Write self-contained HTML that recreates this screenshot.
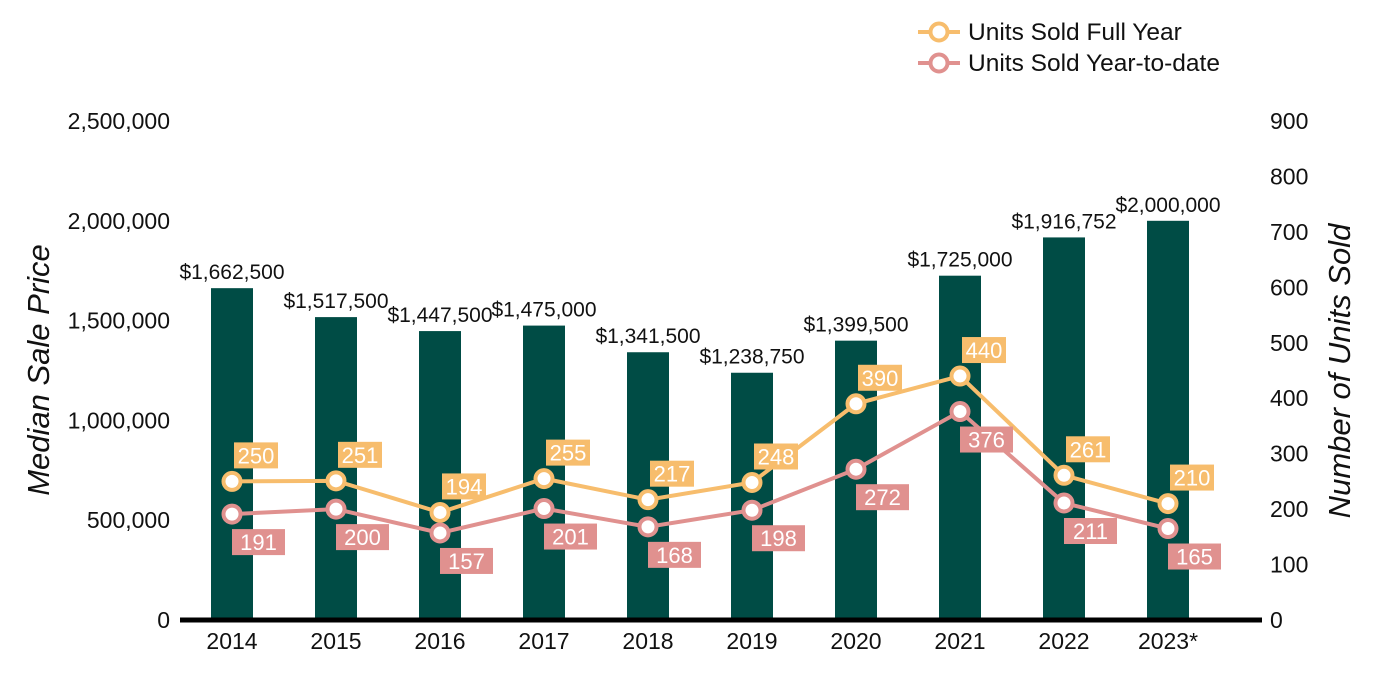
<!DOCTYPE html>
<html><head><meta charset="utf-8"><style>
body{margin:0;background:#fff;}
svg{display:block;font-family:"Liberation Sans",Arial,sans-serif;}
</style></head><body>
<svg id="chart" width="1400" height="700"></svg>
<script>
const categories=["2014","2015","2016","2017","2018","2019","2020","2021","2022","2023*"];
const prices=[1662500,1517500,1447500,1475000,1341500,1238750,1399500,1725000,1916752,2000000];
const fullYear=[250,251,194,255,217,248,390,440,261,210];
const ytd=[191,200,157,201,168,198,272,376,211,165];
const leftTicks=[0,500000,1000000,1500000,2000000,2500000];
const rightTicks=[0,100,200,300,400,500,600,700,800,900];

const NS="http://www.w3.org/2000/svg";
const svg=document.getElementById('chart');
const y0=620,yTop=121;
const yL=v=>y0-(v/2500000)*(y0-yTop);
const yR=v=>y0-(v/900)*(y0-yTop);
const xC=i=>232+i*104;
function mk(t,a,p){const e=document.createElementNS(NS,t);for(const k in a)e.setAttribute(k,a[k]);(p||svg).appendChild(e);return e;}
const fmt=n=>n.toLocaleString('en-US');
const ORANGE="#F7BD6D",PINK="#E0918F",GREEN="#004C45";

leftTicks.forEach(v=>{const t=mk('text',{x:170,y:yL(v)+8,'text-anchor':'end','font-size':23,fill:'#111'});t.textContent=fmt(v);

});
rightTicks.forEach(v=>{const t=mk('text',{x:1270,y:yR(v)+8,'font-size':23,fill:'#111'});t.textContent=v;

});

categories.forEach((c,i)=>{
  const r=mk('rect',{x:xC(i)-21,y:yL(prices[i]),width:42,height:y0-yL(prices[i]),fill:GREEN});
  
  
  const t=mk('text',{x:xC(i),y:yL(prices[i])-9,'text-anchor':'middle','font-size':21,fill:'#111'});t.textContent='$'+fmt(prices[i]);
  
  
  const xl=mk('text',{x:xC(i),y:649,'text-anchor':'middle','font-size':23,fill:'#111'});xl.textContent=c;
  
  
});
const ax=mk('line',{x1:180,x2:1262,y1:y0,y2:y0,stroke:'#000','stroke-width':5});



function series(vals,color,name,above){
  const pl=mk('polyline',{points:vals.map((v,i)=>xC(i)+','+yR(v)).join(' '),fill:'none',stroke:color,'stroke-width':4});
  
  
  vals.forEach((v,i)=>{
    const c=mk('circle',{cx:xC(i),cy:yR(v),r:8.5,fill:'#fff',stroke:color,'stroke-width':4});
    
    
    const w=above?44:53,bx=xC(i)+(above?2:0),by=above?yR(v)-39:yR(v)+15;
    const b=mk('rect',{x:bx,y:by,width:w,height:26,fill:color});
    
    
    const t=mk('text',{x:bx+w/2,y:by+21,'text-anchor':'middle','font-size':22,fill:'#fff'});t.textContent=v;
    
    
  });
}
series(fullYear,ORANGE,'units-full-year',true);
series(ytd,PINK,'units-ytd',false);

[[ORANGE,'Units Sold Full Year',32],[PINK,'Units Sold Year-to-date',63]].forEach(([col,lab,y],k)=>{
  const g=mk('g',{});
  
  
  mk('line',{x1:918,x2:960,y1:y,y2:y,stroke:col,'stroke-width':4},g);
  mk('circle',{cx:939,cy:y,r:8.5,fill:'#fff',stroke:col,'stroke-width':4},g);
  const t=mk('text',{x:968,y:y+8,'font-size':24.5,fill:'#111'},g);t.textContent=lab;
});

const lt=mk('text',{transform:'translate(49,370) rotate(-90)','text-anchor':'middle','font-size':31,'font-style':'italic',fill:'#111'});lt.textContent='Median Sale Price';


const rt=mk('text',{transform:'translate(1350,371) rotate(-90)','text-anchor':'middle','font-size':31,'font-style':'italic',fill:'#111'});rt.textContent='Number of Units Sold';


</script>
</body></html>
